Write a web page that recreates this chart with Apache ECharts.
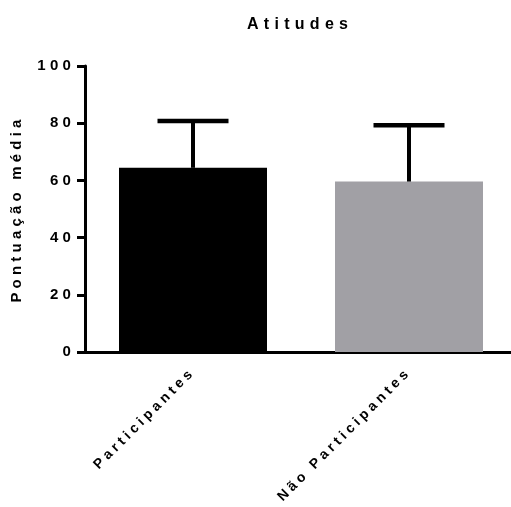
<!DOCTYPE html>
<html>
<head>
<meta charset="utf-8">
<script src="https://cdn.jsdelivr.net/npm/echarts@6/dist/echarts.min.js"></script>
<style>
html,body{margin:0;padding:0;background:#fff;}
#c{width:511px;height:507px;}
</style>
</head>
<body>
<div id="c"></div>
<script>
// Data
var titleText = 'Atitudes';
var yAxisName = 'Pontuação média';
var categories = ['Participantes', 'Não Participantes'];
var means = [64.4, 59.6];
var sds = [16.4, 19.7];
var barColors = ['#000000', '#a1a0a5'];
var yTicks = [0, 20, 40, 60, 80, 100];

// wide letter spacing like the original (render-only tweak)
(function () {
  var P = CanvasRenderingContext2D.prototype;
  if (!('letterSpacing' in P)) return;
  function setLS(ctx) {
    var m = /(\d+(?:\.\d+)?)px/.exec(ctx.font);
    var s = m ? parseFloat(m[1]) : 12;
    var r = s >= 16 ? 0.33 : (s >= 15 ? 0.28 : 0.27);
    ctx.letterSpacing = (s * r).toFixed(2) + 'px';
  }
  ['fillText', 'strokeText', 'measureText'].forEach(function (n) {
    var o = P[n];
    P[n] = function () { setLS(this); return o.apply(this, arguments); };
  });
})();

var FONT = 'Liberation Sans, Arial, sans-serif';
var chart = echarts.init(document.getElementById('c'), null, {renderer: 'canvas'});

var errData = categories.map(function (c, i) { return [i, means[i], means[i] + sds[i]]; });

chart.setOption({
  animation: false,
  backgroundColor: '#fff',
  title: {
    text: titleText,
    left: 247, top: 14, padding: 0,
    textStyle: {fontFamily: FONT, fontWeight: 'bold', fontSize: 16, color: '#000'}
  },
  grid: {left: 85, top: 66, width: 432, bottom: 155, containLabel: false, outerBoundsMode: 'none'},
  xAxis: {
    type: 'category',
    data: categories,
    axisLine: {lineStyle: {color: '#000', width: 3}},
    axisTick: {alignWithLabel: true, length: 7, lineStyle: {color: '#000', width: 3}},
    axisLabel: {
      interval: 0, rotate: 45, margin: 18,
      fontFamily: FONT, fontWeight: 'bold', fontSize: 14, color: '#000'
    }
  },
  yAxis: {
    type: 'value',
    min: 0, max: 100, interval: 20,
    name: yAxisName,
    nameLocation: 'middle',
    nameGap: 57,
    nameTextStyle: {fontFamily: FONT, fontWeight: 'bold', fontSize: 15, color: '#000'},
    axisLine: {show: true, lineStyle: {color: '#000', width: 3}},
    axisTick: {show: true, length: 8, lineStyle: {color: '#000', width: 3}},
    axisLabel: {
      margin: 10,
      fontFamily: FONT, fontWeight: 'bold', fontSize: 15, color: '#000',
      formatter: function (v) { return yTicks.indexOf(v) >= 0 ? String(v) : ''; }
    },
    splitLine: {show: false}
  },
  series: [
    {
      type: 'bar',
      barWidth: 148,
      data: means.map(function (v, i) { return {value: v, itemStyle: {color: barColors[i]}}; })
    },
    {
      type: 'custom',
      data: errData,
      z: 10,
      renderItem: function (params, api) {
        var x = api.value(0);
        var lo = api.coord([x, api.value(1)]);
        var hi = api.coord([x, api.value(2)]);
        var half = 35.5;
        return {
          type: 'group',
          children: [
            {type: 'line', shape: {x1: lo[0], y1: lo[1], x2: hi[0], y2: hi[1]},
             style: {stroke: '#000', lineWidth: 4}},
            {type: 'line', shape: {x1: hi[0] - half, y1: hi[1], x2: hi[0] + half, y2: hi[1]},
             style: {stroke: '#000', lineWidth: 4.5}}
          ]
        };
      }
    }
  ]
});
</script>
</body>
</html>
